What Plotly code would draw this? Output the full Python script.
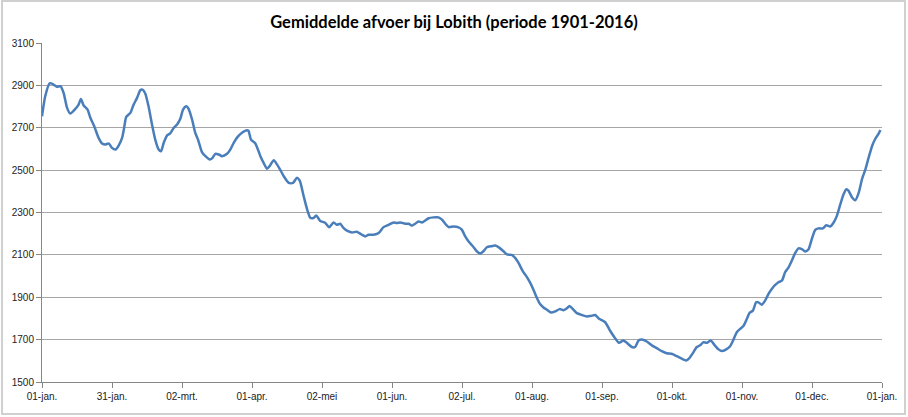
import plotly.graph_objects as go

# Day of year (0 = 01-jan.) and mean discharge (m3/s)
days = [
    0, 1.4, 3.3, 5, 6.5, 8, 9.4, 10.9, 12.3, 14.5, 15.9, 16.9, 18.1, 19.8, 21, 22.7,
    24.6, 26.1, 27.5, 29, 30.4, 31.9, 33.3, 34.8, 35.8, 36.6, 38.4, 39.8, 41.3, 42.7,
    43.7, 44.9, 46.3, 47.8, 49.2, 50.7, 51.7, 52.9, 54.3, 55.7, 57.2, 58.7, 60.1, 61.3,
    62.7, 63.7, 65.2, 66.6, 67.8, 69.5, 71, 72.9, 74.1, 75.3, 76.8, 78.2, 80.4, 81.8,
    83.3, 85, 86.9, 89.1, 89.8, 90.8, 92.7, 94.9, 96.3, 97.8, 98.9, 100.7, 102.1, 103.6,
    105, 107.2, 109.1, 110.8, 112, 113.7, 115.2, 116.6, 118.1, 119.2, 120.9, 123,
    124.8, 126.7, 128.1, 129.6, 131, 132.5, 134.7, 136.8, 139, 140.5, 141.9, 144.1,
    146.3, 148.4, 150.6, 152.8, 154.2, 155.7, 157.8, 159.3, 160.7, 162.2, 163.6, 165.1,
    166.5, 168, 170.1, 172.3, 173.8, 175.2, 176.7, 178.8, 181, 182.4, 183.9, 185.3,
    187.2, 188.9, 190.4, 191.8, 193.3, 195.4, 196.9, 198.8, 200.5, 202, 204.1, 205.6,
    207, 208.9, 210.7, 212.1, 213.5, 215, 216.5, 217.9, 219.4, 221.1, 223, 224.9,
    226.6, 228.1, 229.2, 230.7, 232.4, 234.6, 236.8, 238.5, 240.4, 241.9, 244.7, 246.8,
    249, 250.7, 252.6, 254.1, 256.3, 257.7, 259.2, 260.6, 262.8, 265, 267.1, 269.3,
    271.5, 273.6, 275.8, 278, 279.9, 281.3, 283.1, 284.5, 286, 287.4, 288.9, 290.6,
    292.1, 294, 295.4, 297.3, 299, 300.5, 301.9, 303.4, 304.8, 306.3, 307.4, 308.9,
    310.3, 311.3, 312.8, 314.2, 315.7, 317.1, 318.6, 320, 321.5, 322.9, 324.4, 325.8,
    327.3, 328.7, 330.2, 331.6, 333.1, 334.5, 336, 337.4, 339.3, 340.8, 342.5, 344,
    345.4, 346.9, 348.3, 349.5, 350.5, 352, 353.4, 354.9, 356.3, 357.8, 359.2, 360.7,
    362.1, 363.6, 364.3,
]
afvoer = [
    2754, 2849, 2910, 2904, 2893, 2896, 2864, 2794, 2767, 2789, 2809, 2836, 2805, 2786, 2747, 2707,
    2652, 2626, 2621, 2626, 2605, 2597, 2616, 2652, 2707, 2751, 2770, 2809, 2841, 2877,
    2880, 2861, 2801, 2715, 2644, 2597, 2589, 2629, 2663, 2673, 2699, 2715, 2742, 2786,
    2801, 2789, 2739, 2676, 2644, 2585, 2566, 2550, 2558, 2577, 2574, 2566, 2577, 2597,
    2629, 2657, 2676, 2688, 2684, 2644, 2626, 2566, 2534, 2506, 2519, 2547, 2527, 2500,
    2472, 2440, 2440, 2464, 2450, 2377, 2315, 2275, 2275, 2286, 2260, 2252,
    2230, 2253, 2242, 2247, 2227, 2214, 2206, 2209, 2195, 2187, 2195, 2195,
    2203, 2231, 2242, 2253, 2250, 2253, 2247, 2247, 2238, 2247, 2258, 2253,
    2262, 2273, 2277, 2277, 2266, 2247, 2231, 2234, 2230, 2219, 2187, 2164,
    2141, 2117, 2106, 2117, 2136, 2141, 2144, 2133, 2117, 2102, 2100, 2086,
    2063, 2023, 1995, 1969, 1937, 1898, 1867, 1852, 1841, 1828, 1833, 1844,
    1839, 1848, 1859, 1844, 1825, 1816, 1809, 1812, 1816, 1800, 1782, 1743,
    1707, 1685, 1696, 1685, 1665, 1665, 1696, 1701, 1691, 1673, 1660, 1646,
    1636, 1633, 1622, 1610, 1602, 1613, 1641, 1665, 1673, 1688, 1685, 1696,
    1676, 1654, 1646, 1654, 1669, 1701, 1735, 1751, 1764, 1798, 1826, 1837,
    1876, 1876, 1865, 1884, 1916, 1939, 1958, 1971, 1978, 2018, 2041, 2073,
    2109, 2131, 2127, 2116, 2127, 2175, 2218, 2225, 2225, 2240, 2234, 2253,
    2284, 2339, 2386, 2410, 2402, 2371, 2358, 2394, 2457, 2504, 2559, 2614,
    2648, 2673, 2689,
]

tick_labels = ["01-jan.", "31-jan.", "02-mrt.", "01-apr.", "02-mei", "01-jun.", "02-jul.",
               "01-aug.", "01-sep.", "01-okt.", "01-nov.", "01-dec.", "01-jan."]
year_days = 365
tick_vals = [i * year_days / (len(tick_labels) - 1) for i in range(len(tick_labels))]
y_ticks = list(range(1500, 3101, 200))

fig = go.Figure()
fig.add_trace(go.Scatter(
    x=days, y=afvoer, mode="lines",
    line=dict(color="#4A7EBB", width=2.5, shape="spline", smoothing=0.6),
    hoverinfo="x+y", showlegend=False,
))

W, H = 908, 417
L, R, T, B = 42, 26, 43, 35
pw, ph = W - L - R, H - T - B

def px_x(p):
    return (p - L) / pw

def px_y(p):
    return (H - B - p) / ph

fig.update_layout(
    width=W, height=H,
    margin=dict(l=L, r=R, t=T, b=B, autoexpand=False),
    paper_bgcolor="white", plot_bgcolor="white",
    title=dict(text="<b>Gemiddelde afvoer bij Lobith (periode 1901-2016)</b>",
               x=0.5, xref="container", y=1 - 22 / H, yanchor="middle",
               font=dict(family="Lato", size=16.5, color="#000000")),
    font=dict(family="Liberation Sans", size=10, color="#222222"),
    xaxis=dict(range=[0, year_days], tickmode="array", tickvals=tick_vals, ticktext=tick_labels,
               showgrid=False, zeroline=False, showline=True, linecolor="#868686", linewidth=1,
               ticks="outside", ticklen=5, tickcolor="#868686", automargin=False,
               tickfont=dict(family="Liberation Sans", size=10, color="#222222")),
    yaxis=dict(range=[1500, 3100], tickmode="array", tickvals=y_ticks,
               showgrid=True, gridcolor="#A6A6A6", gridwidth=1, zeroline=False,
               showline=True, linecolor="#868686", linewidth=1,
               ticks="outside", ticklen=5, tickcolor="#868686", automargin=False,
               tickfont=dict(family="Liberation Sans", size=10, color="#222222")),
    shapes=[dict(type="rect", xref="paper", yref="paper",
                 x0=px_x(2), x1=px_x(905), y0=px_y(414), y1=px_y(1),
                 line=dict(color="#D0D0D0", width=2), fillcolor="rgba(0,0,0,0)", layer="below")],
)

fig.write_html("out.html", config={"displayModeBar": False},
               post_script="document.body.style.margin='0';")
